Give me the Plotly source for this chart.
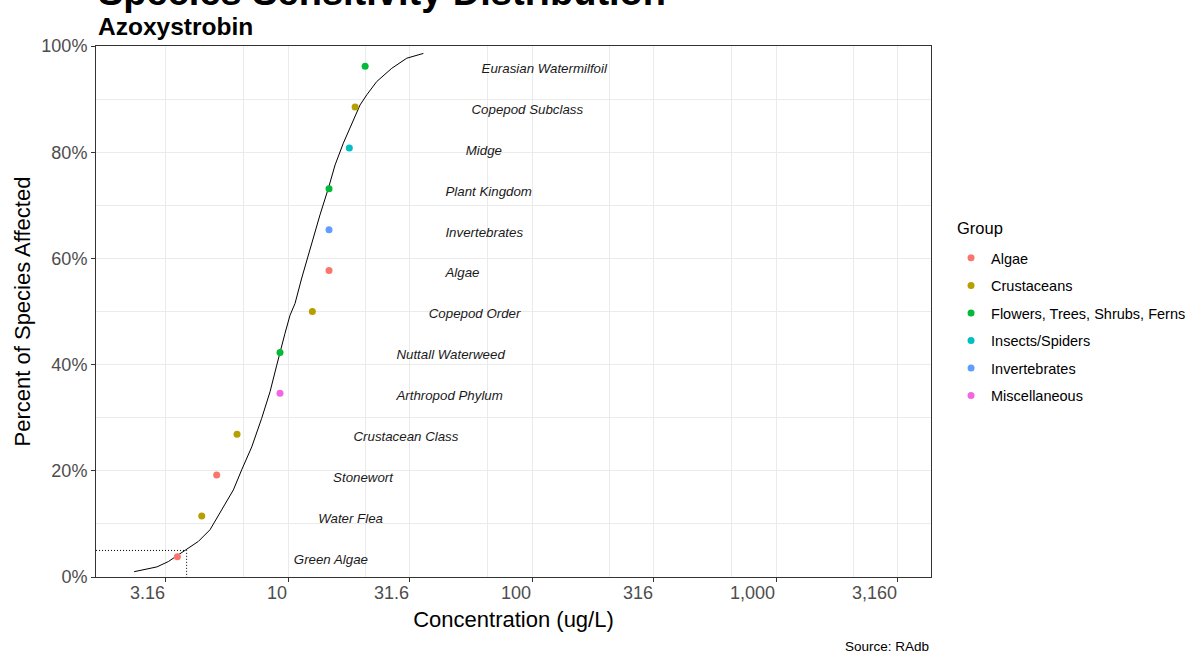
import plotly.graph_objects as go

# ---------------- data ----------------
species = ["Green Algae", "Water Flea", "Stonewort", "Crustacean Class",
           "Arthropod Phylum", "Nuttall Waterweed", "Copepod Order", "Algae",
           "Invertebrates", "Plant Kingdom", "Midge", "Copepod Subclass",
           "Eurasian Watermilfoil"]
groups = ["Algae", "Crustaceans", "Algae", "Crustaceans", "Miscellaneous",
          "Flowers, Trees, Shrubs, Ferns", "Crustaceans", "Algae",
          "Invertebrates", "Flowers, Trees, Shrubs, Ferns", "Insects/Spiders",
          "Crustaceans", "Flowers, Trees, Shrubs, Ferns"]
conc = [3.52, 4.43, 5.10, 6.18, 9.27, 9.27, 12.58, 14.72, 14.72, 14.72,
        17.83, 18.83, 20.7]
pct = [0.038, 0.115, 0.192, 0.269, 0.346, 0.423, 0.500, 0.577, 0.654,
       0.731, 0.808, 0.885, 0.962]

# fitted SSD curve
curve_x = [2.34, 2.90, 3.23, 3.78, 4.29, 4.79, 5.52, 5.97, 6.46, 7.10, 7.80,
           8.44, 8.99, 9.27, 9.72, 10.19, 10.68, 11.38, 12.31, 13.52, 14.63,
           15.59, 16.85, 18.24, 19.73, 21.02, 23.09, 26.61, 30.66, 35.85]
curve_y = [0.010, 0.019, 0.029, 0.051, 0.067, 0.089, 0.136, 0.164, 0.202,
           0.245, 0.299, 0.349, 0.399, 0.424, 0.459, 0.493, 0.515, 0.563,
           0.619, 0.682, 0.732, 0.776, 0.817, 0.854, 0.889, 0.908, 0.933,
           0.958, 0.977, 0.986]

hc5_x = 3.84
hc5_y = 0.05

group_order = ["Algae", "Crustaceans", "Flowers, Trees, Shrubs, Ferns",
               "Insects/Spiders", "Invertebrates", "Miscellaneous"]
group_colors = ["#F8766D", "#B79F00", "#00BA38", "#00BFC4", "#619CFF", "#F564E3"]

x_ticks = [3.16, 10, 31.6, 100, 316, 1000, 3160]
x_ticktext = ["3.16", "10", "31.6", "100", "316", "1,000", "3,160"]
x_minor = [6.57, 20.8, 65.7, 208, 657, 2078]
y_ticks = [0, 0.2, 0.4, 0.6, 0.8, 1.0]
y_minor = [0.1, 0.3, 0.5, 0.7, 0.9]

x_log_range = [0.213, 3.635]
label_factor = 3.0      # labels sit to the right of each point (x * 3)
label_drop = 0.0066     # small vertical nudge of labels

FONT = "Liberation Sans, Arial, sans-serif"

fig = go.Figure()

# HC5 dotted guide
fig.add_trace(go.Scatter(
    x=[10 ** x_log_range[0], hc5_x, hc5_x], y=[hc5_y, hc5_y, 0],
    mode="lines", line=dict(color="black", width=1, dash="1px,2px"),
    showlegend=False, hoverinfo="skip"))

# fitted curve
fig.add_trace(go.Scatter(
    x=curve_x, y=curve_y, mode="lines",
    line=dict(color="black", width=1), showlegend=False, hoverinfo="skip"))

# points per group
for g, c in zip(group_order, group_colors):
    xs = [x for x, gg in zip(conc, groups) if gg == g]
    ys = [y for y, gg in zip(pct, groups) if gg == g]
    fig.add_trace(go.Scatter(
        x=xs, y=ys, mode="markers", name=g, legendgroup=g,
        marker=dict(color=c, size=7)))

# species labels
fig.add_trace(go.Scatter(
    x=[x * label_factor for x in conc], y=[y - label_drop for y in pct],
    mode="text", text=species, textposition="middle right",
    textfont=dict(family=FONT, size=13.3, color="#1a1a1a", style="italic"),
    showlegend=False, hoverinfo="skip"))

grid = "#EBEBEB"
fig.update_layout(
    width=1191, height=653,
    margin=dict(l=96, r=260, t=46, b=76, autoexpand=False),
    paper_bgcolor="white", plot_bgcolor="white",
    font=dict(family=FONT, color="black"),
    showlegend=True,
    legend=dict(
        font=dict(size=14.5, family=FONT, color="black"),
        x=1.024, xanchor="left", y=0.631, yanchor="top",
        traceorder="grouped", tracegroupgap=5.7,
        bgcolor="rgba(0,0,0,0)"),
    xaxis=dict(
        type="log", range=x_log_range,
        tickvals=x_ticks, ticktext=x_ticktext,
        tickfont=dict(size=18, color="#4D4D4D", family=FONT),
        ticks="outside", ticklen=4, tickcolor="#333333", tickwidth=1,
        ticklabelposition="outside left",
        ticklabelstandoff=-1,
        showgrid=True, gridcolor=grid, gridwidth=1,
        minor=dict(tickvals=x_minor, showgrid=True, gridcolor=grid,
                   gridwidth=1, ticks=""),
        showline=True, linecolor="#333333", linewidth=1, mirror=True,
        zeroline=False,
        title=dict(text="Concentration (ug/L)",
                   font=dict(size=22, family=FONT, color="black"),
                   standoff=10)),
    yaxis=dict(
        range=[0, 1], tickvals=y_ticks, tickformat=".0%",
        tickfont=dict(size=18, color="#4D4D4D", family=FONT),
        ticks="outside", ticklen=4, tickcolor="#333333", tickwidth=1,
        showgrid=True, gridcolor=grid, gridwidth=1,
        minor=dict(tickvals=y_minor, showgrid=True, gridcolor=grid,
                   gridwidth=1, ticks=""),
        showline=True, linecolor="#333333", linewidth=1, mirror=True,
        zeroline=False,
        title=dict(text="Percent of Species Affected",
                   font=dict(size=22, family=FONT, color="black"),
                   standoff=4)),
    annotations=[
        dict(text="<b>Species Sensitivity Distribution</b>", xref="paper",
             yref="paper", x=0, y=1.102, xanchor="left", yanchor="middle",
             showarrow=False, font=dict(size=38, family=FONT, color="black")),
        dict(text="<b>Azoxystrobin</b>", xref="paper", yref="paper",
             x=0, y=1.037, xanchor="left", yanchor="middle", showarrow=False,
             font=dict(size=24.5, family=FONT, color="black")),
        dict(text="Group", xref="paper", yref="paper", x=1.0287,
             y=0.657, xanchor="left", yanchor="middle", showarrow=False,
             font=dict(size=16.5, family=FONT, color="black")),
        dict(text="Source: RAdb", xref="paper", yref="paper", x=1.0,
             y=-0.130, xanchor="right", yanchor="middle", showarrow=False,
             font=dict(size=13.5, family=FONT, color="black")),
    ],
)

fig.write_html("out.html")
